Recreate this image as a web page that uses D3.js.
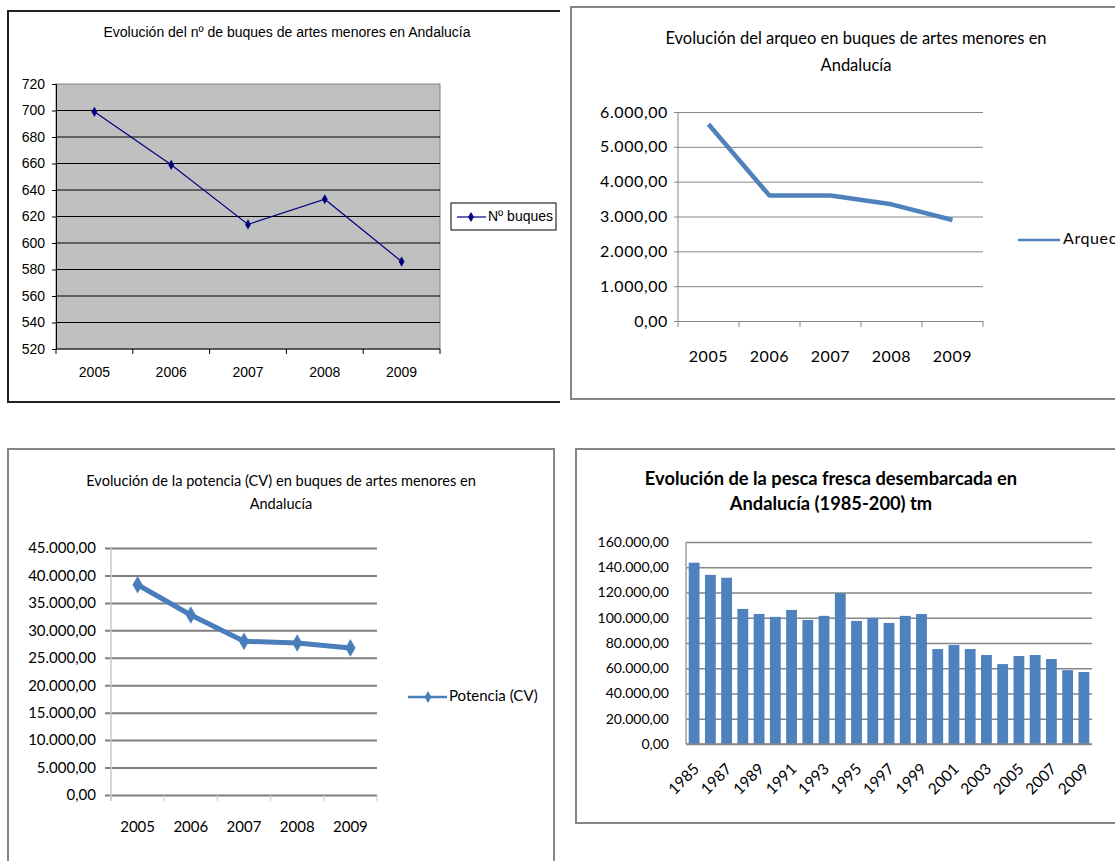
<!DOCTYPE html>
<html>
<head>
<meta charset="utf-8">
<script src="https://cdn.jsdelivr.net/npm/d3@7"></script>
<style>
  body { margin: 0; background: #fff; }
  svg { display: block; }
</style>
</head>
<body>
<div id="chart"></div>
<script>
// ---- data ----
var years = ["2005", "2006", "2007", "2008", "2009"];
var buques = [699, 659, 614, 633, 586];
var buquesTicks = [520, 540, 560, 580, 600, 620, 640, 660, 680, 700, 720];

var arqueo = [5650, 3600, 3600, 3350, 2900];
var arqueoTicks = [0, 1000, 2000, 3000, 4000, 5000, 6000];

var potencia = [38300, 32800, 28000, 27700, 26800];
var potenciaTicks = [0, 5000, 10000, 15000, 20000, 25000, 30000, 35000, 40000, 45000];

var pescaYears = ["1985", "1986", "1987", "1988", "1989", "1990", "1991", "1992", "1993", "1994",
  "1995", "1996", "1997", "1998", "1999", "2000", "2001", "2002", "2003", "2004",
  "2005", "2006", "2007", "2008", "2009"];
var pesca = [143600, 134000, 131700, 107000, 103000, 100700, 106200, 98300, 101500, 119500,
  97500, 99900, 95900, 101500, 103000, 75200, 78400, 75200, 70500, 63300,
  69700, 70500, 67300, 58500, 57000];
var pescaTicks = [0, 20000, 40000, 60000, 80000, 100000, 120000, 140000, 160000];
var pescaLabels = ["1985", "1987", "1989", "1991", "1993", "1995", "1997", "1999", "2001", "2003", "2005", "2007", "2009"];

var arial = "'Liberation Sans', Arial, sans-serif";
var calibri = "Lato, 'Open Sans', sans-serif";

// spanish number format: 6.000,00
var es = d3.formatLocale({ decimal: ",", thousands: ".", grouping: [3], currency: ["", "€"] });
var fmt = es.format(",.2f");

var svg = d3.select("#chart").append("svg")
  .attr("width", 1115)
  .attr("height", 861);

svg.append("rect").attr("width", 1115).attr("height", 861).attr("fill", "#fff");

// Excel-like tick marks between the categories
function bandEdges(g, x, y0, len, color) {
  var edges = x.domain().map(function (d) { return x(d); }).concat([x.range()[1]]);
  g.selectAll(null).data(edges).enter().append("line")
    .attr("x1", function (d) { return d; })
    .attr("x2", function (d) { return d; })
    .attr("y1", y0).attr("y2", y0 + len)
    .attr("stroke", color)
    .attr("stroke-width", 1);
}

function title(g, lines, cx, y0, dy, size, weight, family) {
  g.selectAll(null).data(lines).enter().append("text")
    .attr("x", cx)
    .attr("y", function (d, i) { return y0 + i * dy; })
    .attr("text-anchor", "middle")
    .attr("dominant-baseline", "middle")
    .style("font-family", family)
    .style("font-size", size + "px")
    .style("font-weight", weight)
    .text(function (d) { return d; });
}

// =============== chart 1 : nº de buques ===============
(function () {
  var g = svg.append("g");
  // panel frame (top, left, bottom only)
  g.append("path")
    .attr("d", "M560,11 H8 V402 H560")
    .attr("fill", "none").attr("stroke", "#222").attr("stroke-width", 2);

  title(g, ["Evolución del nº de buques de artes menores en Andalucía"], 287, 33, 0, 14, "normal", arial);

  var left = 56, top = 84, width = 384, height = 265;
  var x = d3.scaleBand().domain(years).range([left, left + width]);
  var y = d3.scaleLinear().domain([520, 720]).range([top + height, top]);

  g.append("rect")
    .attr("x", left).attr("y", top).attr("width", width).attr("height", height)
    .attr("fill", "#c0c0c0").attr("stroke", "#808080");

  // gridlines
  g.selectAll(null).data(buquesTicks.slice(1, -1)).enter().append("line")
    .attr("x1", left).attr("x2", left + width)
    .attr("y1", function (d) { return y(d); }).attr("y2", function (d) { return y(d); })
    .attr("stroke", "#000").attr("stroke-width", 1);

  var ya = g.append("g")
    .attr("transform", "translate(" + left + ",0)")
    .call(d3.axisLeft(y).tickValues(buquesTicks).tickSize(4).tickPadding(7).tickFormat(d3.format("d")));
  ya.select(".domain").attr("stroke", "#000");
  ya.selectAll("text").style("font-family", arial).style("font-size", "14px").attr("fill", "#000");

  g.append("line").attr("x1", left).attr("x2", left + width)
    .attr("y1", top + height).attr("y2", top + height).attr("stroke", "#000");
  bandEdges(g, x, top + height, 5, "#000");

  g.selectAll(null).data(years).enter().append("text")
    .attr("x", function (d) { return x(d) + x.bandwidth() / 2; })
    .attr("y", 373)
    .attr("text-anchor", "middle").attr("dominant-baseline", "middle")
    .style("font-family", arial).style("font-size", "14px")
    .text(function (d) { return d; });

  var line = d3.line()
    .x(function (d, i) { return x(years[i]) + x.bandwidth() / 2; })
    .y(function (d) { return y(d); });
  g.append("path").datum(buques)
    .attr("d", line).attr("fill", "none").attr("stroke", "#000080").attr("stroke-width", 1.2);

  g.selectAll(null).data(buques).enter().append("path")
    .attr("d", d3.symbol(d3.symbolDiamond, 30))
    .attr("transform", function (d, i) { return "translate(" + (x(years[i]) + x.bandwidth() / 2) + "," + y(d) + ")"; })
    .attr("fill", "#000080");

  // legend
  g.append("rect").attr("x", 451).attr("y", 203).attr("width", 105).attr("height", 27)
    .attr("fill", "#fff").attr("stroke", "#000");
  g.append("line").attr("x1", 457).attr("x2", 486).attr("y1", 217).attr("y2", 217)
    .attr("stroke", "#000080").attr("stroke-width", 1.2);
  g.append("path").attr("d", d3.symbol(d3.symbolDiamond, 30))
    .attr("transform", "translate(471,217)").attr("fill", "#000080");
  g.append("text").attr("x", 488).attr("y", 217).attr("dominant-baseline", "middle")
    .style("font-family", arial).style("font-size", "14px").text("Nº buques");
})();

// =============== chart 2 : arqueo ===============
(function () {
  var g = svg.append("g");
  g.append("rect").attr("x", 571).attr("y", 7).attr("width", 600).attr("height", 392)
    .attr("fill", "#fff").attr("stroke", "#868686").attr("stroke-width", 2);

  title(g, ["Evolución del arqueo en buques de artes menores en", "Andalucía"], 856, 40, 27, 16.5, "normal", calibri);

  var left = 678, top = 112, width = 305, height = 209;
  var x = d3.scaleBand().domain(years).range([left, left + width]);
  var y = d3.scaleLinear().domain([0, 6000]).range([top + height, top]);

  var ya = g.append("g")
    .attr("transform", "translate(" + left + ",0)")
    .call(d3.axisLeft(y).tickValues(arqueoTicks).tickSize(-width).tickPadding(10).tickFormat(fmt));
  ya.select(".domain").remove();
  ya.selectAll("line").attr("stroke", "#868686").attr("x1", -4);
  ya.selectAll("text").style("font-family", calibri).style("font-size", "16px")
    .style("letter-spacing", "0.6px").attr("fill", "#000");
  g.append("line").attr("x1", left).attr("x2", left).attr("y1", top).attr("y2", top + height)
    .attr("stroke", "#868686");
  bandEdges(g, x, top + height, 6, "#868686");

  g.selectAll(null).data(years).enter().append("text")
    .attr("x", function (d) { return x(d) + x.bandwidth() / 2; })
    .attr("y", 358)
    .attr("text-anchor", "middle").attr("dominant-baseline", "middle")
    .style("font-family", calibri).style("font-size", "16px").style("letter-spacing", "0.6px")
    .text(function (d) { return d; });

  var line = d3.line()
    .x(function (d, i) { return x(years[i]) + x.bandwidth() / 2; })
    .y(function (d) { return y(d); });
  g.append("path").datum(arqueo)
    .attr("d", line).attr("fill", "none").attr("stroke", "#4f81bd").attr("stroke-width", 4.5)
    .attr("stroke-linejoin", "round");

  // legend runs past the right edge, like in the original screenshot
  g.append("line").attr("x1", 1018).attr("x2", 1060).attr("y1", 240).attr("y2", 240)
    .attr("stroke", "#4f81bd").attr("stroke-width", 2.5);
  g.append("text").attr("x", 1063).attr("y", 240).attr("dominant-baseline", "middle")
    .style("font-family", calibri).style("font-size", "16px").style("letter-spacing", "0.6px")
    .text("Arqueo");
})();

// =============== chart 3 : potencia ===============
(function () {
  var g = svg.append("g");
  g.append("rect").attr("x", 8).attr("y", 449).attr("width", 546).attr("height", 440)
    .attr("fill", "#fff").attr("stroke", "#868686").attr("stroke-width", 2);

  title(g, ["Evolución de la potencia (CV) en buques de artes menores en", "Andalucía"], 281, 482, 23, 14.6, "normal", calibri);

  var left = 111, top = 548, width = 266, height = 247;
  var x = d3.scaleBand().domain(years).range([left, left + width]);
  var y = d3.scaleLinear().domain([0, 45000]).range([top + height, top]);

  var ya = g.append("g")
    .attr("transform", "translate(" + left + ",0)")
    .call(d3.axisLeft(y).tickValues(potenciaTicks).tickSize(-width).tickPadding(15).tickFormat(fmt));
  ya.select(".domain").remove();
  ya.selectAll("line").attr("stroke", "#7f7f7f").attr("stroke-width", 2).attr("x1", -6);
  ya.selectAll("text").style("font-family", calibri).style("font-size", "15px").attr("fill", "#000");
  g.append("line").attr("x1", left).attr("x2", left).attr("y1", top).attr("y2", top + height + 6)
    .attr("stroke", "#c8c8c8").attr("stroke-width", 1.5);
  bandEdges(g, x, top + height, 6, "#c8c8c8");

  g.selectAll(null).data(years).enter().append("text")
    .attr("x", function (d) { return x(d) + x.bandwidth() / 2; })
    .attr("y", 828)
    .attr("text-anchor", "middle").attr("dominant-baseline", "middle")
    .style("font-family", calibri).style("font-size", "15px")
    .text(function (d) { return d; });

  var line = d3.line()
    .x(function (d, i) { return x(years[i]) + x.bandwidth() / 2; })
    .y(function (d) { return y(d); });
  g.append("path").datum(potencia)
    .attr("d", line).attr("fill", "none").attr("stroke", "#4a7ebb").attr("stroke-width", 5)
    .attr("stroke-linejoin", "round");

  g.selectAll(null).data(potencia).enter().append("path")
    .attr("d", d3.symbol(d3.symbolDiamond, 90))
    .attr("transform", function (d, i) { return "translate(" + (x(years[i]) + x.bandwidth() / 2) + "," + y(d) + ")"; })
    .attr("fill", "#4a7ebb");

  g.append("line").attr("x1", 408).attr("x2", 447).attr("y1", 697).attr("y2", 697)
    .attr("stroke", "#4a7ebb").attr("stroke-width", 2.5);
  g.append("path").attr("d", d3.symbol(d3.symbolDiamond, 40))
    .attr("transform", "translate(428,697)").attr("fill", "#4a7ebb");
  g.append("text").attr("x", 449).attr("y", 697).attr("dominant-baseline", "middle")
    .style("font-family", calibri).style("font-size", "15px")
    .text("Potencia (CV)");
})();

// =============== chart 4 : pesca fresca desembarcada ===============
(function () {
  var g = svg.append("g");
  g.append("rect").attr("x", 576).attr("y", 449).attr("width", 600).attr("height", 374)
    .attr("fill", "#fff").attr("stroke", "#868686").attr("stroke-width", 2);

  title(g, ["Evolución de la pesca fresca desembarcada en", "Andalucía (1985-200) tm"], 831, 480, 25, 18.3, "bold", calibri);

  var left = 686, top = 542, width = 406, height = 202;
  var x = d3.scaleBand().domain(pescaYears).range([left, left + width]).paddingInner(1 / 3).paddingOuter(1 / 6);
  var y = d3.scaleLinear().domain([0, 160000]).range([top + height, top]);

  var ya = g.append("g")
    .attr("transform", "translate(" + left + ",0)")
    .call(d3.axisLeft(y).tickValues(pescaTicks).tickSize(-width).tickPadding(17).tickFormat(fmt));
  ya.select(".domain").remove();
  ya.selectAll("line").attr("stroke", "#868686").attr("stroke-width", 1.5);
  ya.selectAll("text").style("font-family", calibri).style("font-size", "14px").attr("fill", "#000");
  g.append("line").attr("x1", left).attr("x2", left).attr("y1", top).attr("y2", top + height)
    .attr("stroke", "#a0a0a0").attr("stroke-width", 1.5);

  g.selectAll(null).data(pesca).enter().append("rect")
    .attr("x", function (d, i) { return x(pescaYears[i]); })
    .attr("y", function (d) { return y(d); })
    .attr("width", x.bandwidth())
    .attr("height", function (d) { return y(0) - y(d); })
    .attr("fill", "#4f81bd");

  g.append("line").attr("x1", left).attr("x2", left + width)
    .attr("y1", top + height).attr("y2", top + height).attr("stroke", "#868686").attr("stroke-width", 1.5);

  g.selectAll(null).data(pescaLabels).enter().append("text")
    .attr("transform", function (d) {
      return "translate(" + (x(d) + x.bandwidth() / 2 + 6) + "," + (top + height + 26) + ") rotate(-45)";
    })
    .attr("text-anchor", "end")
    .style("font-family", calibri).style("font-size", "15.5px")
    .text(function (d) { return d; });
})();
</script>
</body>
</html>
